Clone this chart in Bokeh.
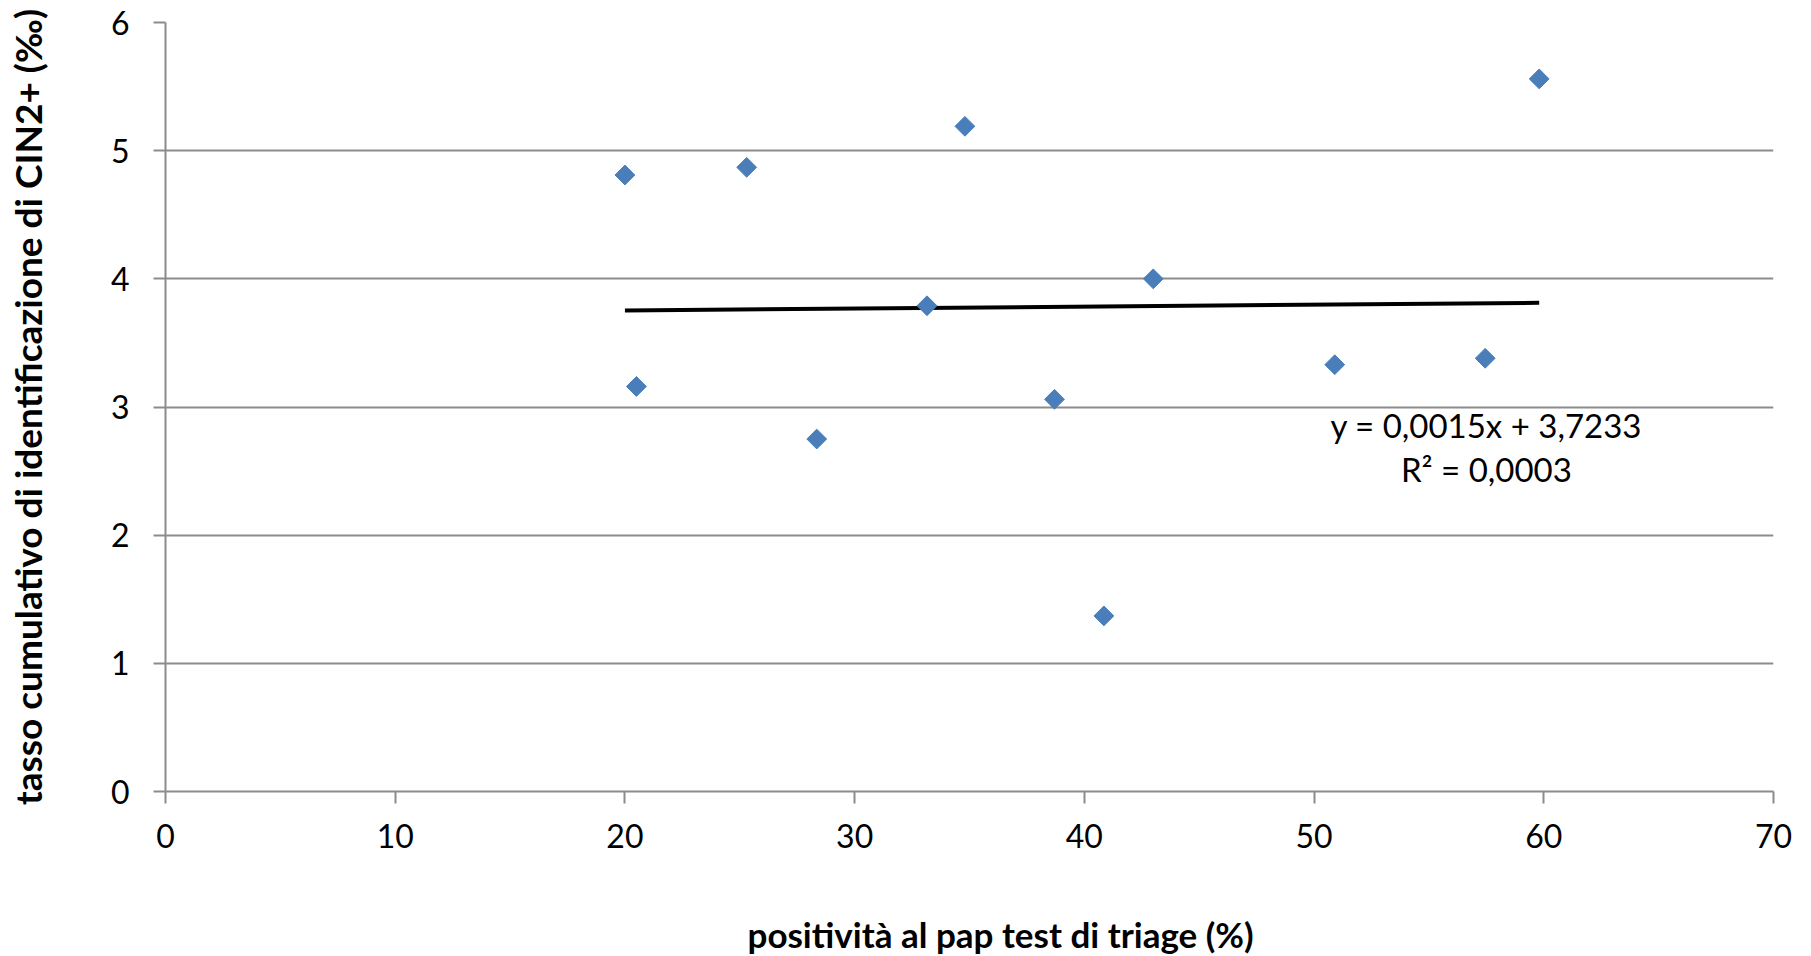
import numpy as np
from bokeh.plotting import figure
from bokeh.models import Range1d, Label, FixedTicker, Title
from bokeh.embed import file_html
from bokeh.resources import INLINE

# data
positivita = [20.0, 20.5, 25.3, 28.35, 33.15, 34.8, 38.7, 40.85, 43.0, 50.9, 57.45, 59.8]
tasso = [4.81, 3.16, 4.87, 2.75, 3.79, 5.19, 3.06, 1.37, 4.00, 3.33, 3.38, 5.56]
slope = 0.0015
intercept = 3.7233
eq_text = "y = 0,0015x + 3,7233"
r2_text = "R² = 0,0003"
x_title = "positività al pap test di triage (%)"
y_title = "tasso cumulativo di identificazione di CIN2+ (‰)"
x_ticks = [0, 10, 20, 30, 40, 50, 60, 70]
y_ticks = [0, 1, 2, 3, 4, 5, 6]

FONT = "Lato"
GRID = "#8c8c8c"

p = figure(width=1800, height=954, output_backend="svg", toolbar_location=None,
           x_range=Range1d(0, 70), y_range=Range1d(0, 6),
           min_border_left=165, min_border_right=27, min_border_top=22, min_border_bottom=161)
p.outline_line_color = None
p.background_fill_color = "white"

p.xgrid.grid_line_color = None
p.ygrid.grid_line_color = GRID
p.ygrid.grid_line_width = 2
p.xaxis.ticker = FixedTicker(ticks=x_ticks)
p.yaxis.ticker = FixedTicker(ticks=y_ticks)

for ax in (p.xaxis, p.yaxis):
    ax.axis_line_color = GRID
    ax.axis_line_width = 2
    ax.major_tick_line_color = GRID
    ax.major_tick_line_width = 2
    ax.major_tick_out = 12
    ax.major_tick_in = 0
    ax.minor_tick_line_color = None
    ax.major_label_text_font = FONT
    ax.major_label_text_font_size = "32px"
    ax.major_label_text_color = "black"

p.xaxis.major_label_standoff = 20
p.yaxis.major_label_standoff = 24

p.yaxis.axis_label = y_title
p.yaxis.axis_label_text_font = FONT
p.yaxis.axis_label_text_font_size = "37px"
p.yaxis.axis_label_text_font_style = "bold"
p.yaxis.axis_label_text_color = "black"
p.yaxis.axis_label_standoff = 58

# spacer between tick labels and x title, then the x title shifted right like the reference
p.add_layout(Title(text=" ", standoff=57, text_font=FONT, text_font_size="1px"), "below")
p.add_layout(Title(text=x_title, align="left", offset=582, standoff=0,
                   text_font=FONT, text_font_size="35px", text_font_style="bold",
                   text_color="black"), "below")

# trend line
xs = np.array([min(positivita), max(positivita)])
p.line(xs, slope * xs + intercept, line_color="black", line_width=4)

# points
p.scatter(positivita, tasso, marker="square", angle=np.pi / 4, size=14,
          fill_color="#4a7ebb", line_color="#4a7ebb")

p.add_layout(Label(x=57.5, y=2.86, text=eq_text, text_align="center", text_baseline="middle",
                   text_font=FONT, text_font_size="33px", text_color="black"))
p.add_layout(Label(x=57.5, y=2.52, text=r2_text, text_align="center", text_baseline="middle",
                   text_font=FONT, text_font_size="33px", text_color="black"))

open("out.html", "w").write(file_html(p, INLINE))
